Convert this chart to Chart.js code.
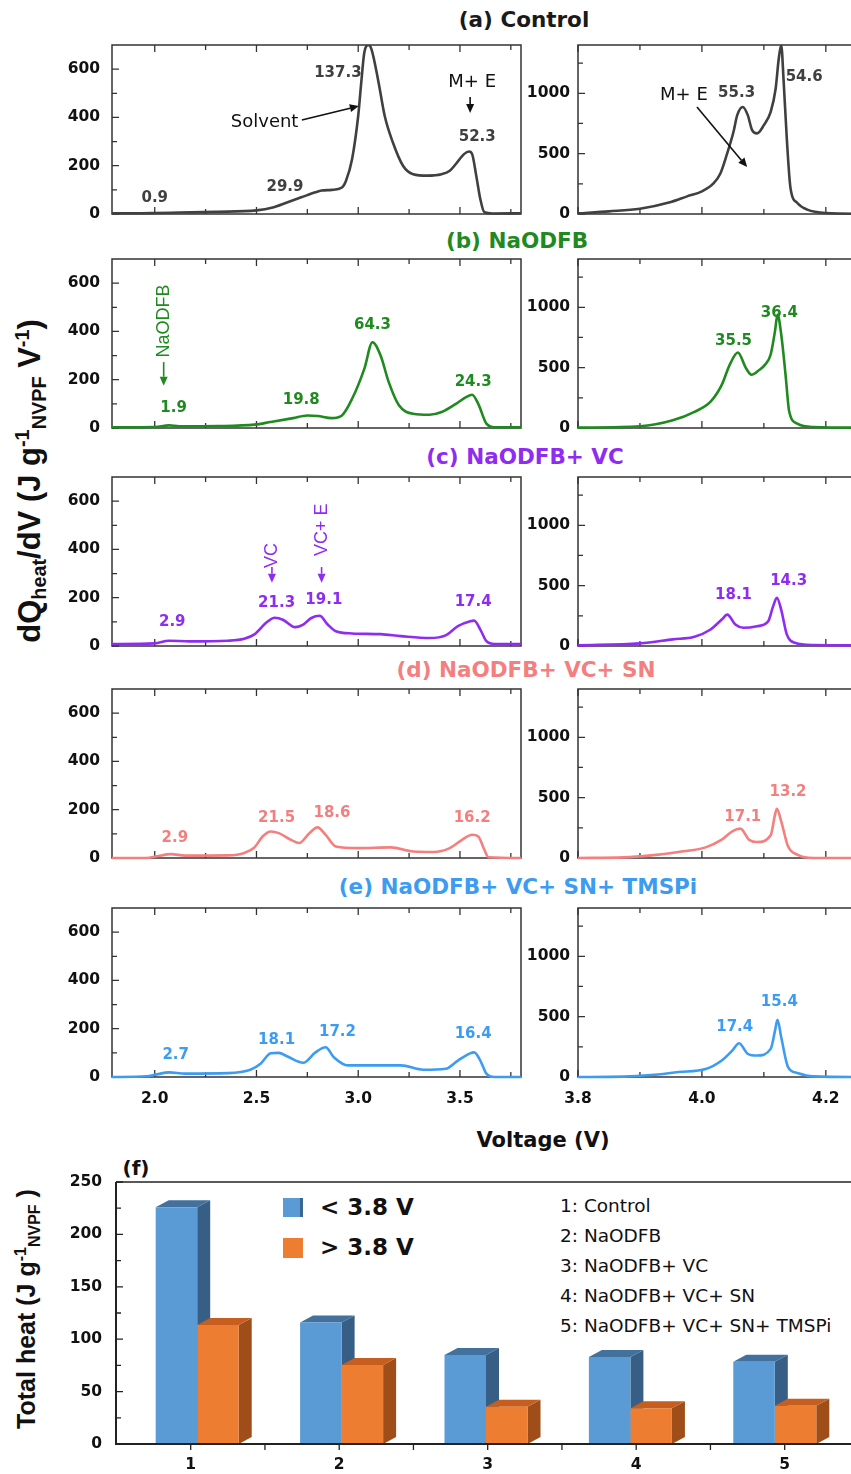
<!DOCTYPE html>
<html><head><meta charset="utf-8">
<script src="https://cdn.jsdelivr.net/npm/chart.js@4.4.0/dist/chart.umd.min.js"></script>
<style>
html,body{margin:0;padding:0;background:#fff;}
body{width:851px;height:1474px;overflow:hidden;position:relative;font-family:"DejaVu Sans",sans-serif;}
canvas{position:absolute;}
.t{position:absolute;white-space:nowrap;font-weight:bold;font-size:21.5px;line-height:1;transform:translate(-50%,-50%);}
.rt{position:absolute;white-space:nowrap;font-weight:bold;font-family:"Liberation Sans",Arial,sans-serif;line-height:1;color:#111;transform:translate(-50%,-50%) rotate(-90deg);}
.sb{font-size:0.64em;position:relative;top:0.32em;}
.sp{font-size:0.64em;position:relative;top:-0.55em;}
.lg{position:absolute;white-space:nowrap;line-height:1;transform:translateY(-50%);color:#111;}
</style></head><body>

<div class="t" style="left:524px;top:20px;color:#1a1a1a">(a) Control</div>
<div class="t" style="left:517px;top:241px;color:#1f8a1f">(b) NaODFB</div>
<div class="t" style="left:525px;top:457px;color:#8f2cf2">(c) NaODFB+ VC</div>
<div class="t" style="left:526px;top:670px;color:#f47f7f">(d) NaODFB+ VC+ SN</div>
<div class="t" style="left:518px;top:887px;color:#3d9cf0">(e) NaODFB+ VC+ SN+ TMSPi</div>
<div class="rt" style="left:29px;top:481px;font-size:31px">dQ<span class="sb">heat</span>/dV (J g<span class="sp">-1</span><span class="sb">NVPF</span> V<span class="sp">-1</span>)</div>
<div class="t" style="left:543px;top:1140px;font-size:21px;color:#111">Voltage (V)</div>
<div class="t" style="left:136px;top:1168px;font-size:20px;color:#111">(f)</div>
<div class="rt" style="left:26px;top:1309px;font-size:25px">Total heat (J g<span class="sp">-1</span><span class="sb">NVPF</span> )</div>

<div style="position:absolute;left:283px;top:1198px;width:17px;height:19px;background:#5b9bd5;border-right:3px solid #3a6791"></div>
<div style="position:absolute;left:283px;top:1238px;width:20px;height:20px;background:#ed7d31"></div>
<div class="lg" style="left:320px;top:1207px;font-weight:bold;font-size:23px">&lt; 3.8 V</div>
<div class="lg" style="left:320px;top:1247px;font-weight:bold;font-size:23px">&gt; 3.8 V</div>
<div id="legendNames"></div>

<script>
// ---------------- DATA ----------------
// (a) Control
const voltA1 = [1.79, 1.90, 2.00, 2.12, 2.30, 2.50, 2.58, 2.65, 2.72, 2.79, 2.82, 2.87, 2.92, 2.94, 2.97, 3.00, 3.015, 3.03, 3.05, 3.065, 3.10, 3.13, 3.17, 3.22, 3.27, 3.34, 3.41, 3.45, 3.48, 3.52, 3.545, 3.56, 3.58, 3.60, 3.62, 3.66, 3.80];
const heatA1 = [3, 3, 4, 6, 9, 15, 27, 48, 69, 90, 97, 100, 110, 138, 228, 407, 545, 669, 700, 683, 545, 407, 297, 200, 165, 159, 165, 179, 207, 248, 259, 248, 159, 62, 7, 2, 3];
const voltA2 = [3.80, 3.85, 3.90, 3.95, 3.976, 4.00, 4.019, 4.03, 4.04, 4.051, 4.057, 4.066, 4.074, 4.081, 4.089, 4.10, 4.111, 4.119, 4.124, 4.128, 4.132, 4.137, 4.143, 4.154, 4.17, 4.20, 4.26];
const heatA2 = [5, 22, 44, 99, 146, 187, 255, 338, 489, 681, 819, 887, 819, 695, 668, 736, 846, 1038, 1286, 1400, 1093, 626, 214, 91, 36, 8, 2];
// (b) NaODFB
const voltB1 = [1.79, 2.00, 2.07, 2.12, 2.31, 2.49, 2.57, 2.68, 2.75, 2.80, 2.87, 2.92, 2.97, 3.03, 3.07, 3.11, 3.15, 3.20, 3.27, 3.35, 3.41, 3.48, 3.53, 3.56, 3.59, 3.63, 3.67, 3.80];
const heatB1 = [3, 4, 11, 7, 8, 14, 25, 41, 52, 50, 41, 52, 121, 245, 355, 300, 190, 94, 59, 55, 66, 100, 128, 138, 100, 18, 3, 3];
const voltB2 = [3.80, 3.90, 3.953, 3.988, 4.014, 4.032, 4.045, 4.058, 4.071, 4.08, 4.093, 4.102, 4.111, 4.118, 4.122, 4.128, 4.135, 4.141, 4.154, 4.18, 4.26];
const heatB2 = [3, 14, 64, 134, 218, 357, 525, 625, 497, 441, 483, 525, 609, 804, 940, 776, 441, 134, 36, 8, 3];
// (c) NaODFB+ VC
const voltC1 = [1.79, 2.00, 2.07, 2.17, 2.36, 2.44, 2.49, 2.55, 2.59, 2.63, 2.69, 2.73, 2.77, 2.81, 2.85, 2.89, 2.97, 3.11, 3.21, 3.35, 3.43, 3.49, 3.55, 3.57, 3.60, 3.63, 3.67, 3.80];
const heatC1 = [8, 11, 22, 19, 22, 30, 48, 98, 117, 109, 78, 89, 116, 125, 89, 61, 52, 49, 41, 33, 44, 82, 102, 105, 68, 20, 8, 8];
const voltC2 = [3.80, 3.90, 3.953, 3.988, 4.014, 4.032, 4.041, 4.054, 4.067, 4.089, 4.107, 4.115, 4.121, 4.128, 4.137, 4.15, 4.18, 4.26];
const heatC2 = [5, 22, 55, 77, 137, 219, 260, 178, 151, 164, 205, 330, 400, 300, 96, 27, 8, 5];
// (d) NaODFB+ VC+ SN
const voltD1 = [1.79, 1.96, 2.01, 2.08, 2.15, 2.36, 2.44, 2.49, 2.53, 2.57, 2.61, 2.67, 2.71, 2.76, 2.80, 2.84, 2.89, 3.00, 3.16, 3.27, 3.37, 3.45, 3.51, 3.56, 3.59, 3.62, 3.64, 3.80];
const heatD1 = [0, 0, 7, 16, 10, 11, 21, 44, 89, 110, 103, 75, 62, 103, 127, 96, 48, 41, 44, 27, 25, 41, 75, 96, 89, 34, 3, 0];
const voltD2 = [3.80, 3.874, 3.918, 3.962, 4.006, 4.032, 4.049, 4.062, 4.076, 4.089, 4.111, 4.118, 4.121, 4.128, 4.139, 4.154, 4.18, 4.26];
const heatD2 = [0, 5, 22, 50, 88, 152, 221, 243, 152, 132, 188, 359, 408, 304, 97, 28, 0, 0];
// (e) NaODFB+ VC+ SN+ TMSPi
const voltE1 = [1.79, 1.96, 2.01, 2.07, 2.15, 2.36, 2.47, 2.52, 2.57, 2.61, 2.65, 2.73, 2.79, 2.84, 2.88, 2.95, 3.11, 3.21, 3.32, 3.43, 3.49, 3.55, 3.57, 3.60, 3.63, 3.67, 3.80];
const heatE1 = [0, 3, 11, 19, 14, 16, 30, 55, 98, 100, 86, 59, 102, 123, 82, 48, 48, 48, 30, 34, 68, 98, 102, 68, 14, 0, 0];
const voltE2 = [3.80, 3.874, 3.918, 3.962, 4.006, 4.032, 4.049, 4.06, 4.074, 4.089, 4.111, 4.118, 4.122, 4.128, 4.139, 4.154, 4.18, 4.26];
const heatE2 = [0, 3, 16, 41, 66, 137, 219, 279, 192, 178, 233, 384, 474, 329, 82, 33, 5, 0];

// peak labels [voltage, value, text]
const numA1 = [[2.00, 66, '0.9'], [2.64, 112, '29.9'], [2.90, 584, '137.3'], [3.585, 319, '52.3']];
const numA2 = [[4.056, 1002, '55.3'], [4.165, 1135, '54.6']];
const numB1 = [[2.093, 83, '1.9'], [2.72, 116, '19.8'], [3.07, 427, '64.3'], [3.565, 190, '24.3']];
const numB2 = [[4.051, 722, '35.5'], [4.125, 955, '36.4']];
const numC1 = [[2.086, 97, '2.9'], [2.599, 179, '21.3'], [2.831, 190, '19.1'], [3.565, 182, '17.4']];
const numC2 = [[4.051, 424, '18.1'], [4.14, 534, '14.3']];
const numD1 = [[2.099, 84, '2.9'], [2.599, 167, '21.5'], [2.871, 185, '18.6'], [3.56, 164, '16.2']];
const numD2 = [[4.066, 336, '17.1'], [4.139, 543, '13.2']];
const numE1 = [[2.103, 92, '2.7'], [2.599, 151, '18.1'], [2.898, 186, '17.2'], [3.565, 179, '16.4']];
const numE2 = [[4.053, 414, '17.4'], [4.125, 620, '15.4']];
// text callouts [voltage, value, text]
const wordsA1 = [[2.54, 381, 'Solvent'], [3.56, 547, 'M+ E']];
const wordsA2 = [[3.971, 986, 'M+ E']];
const arrowsA1 = [[2.723, 389, 3.003, 447], [3.55, 485, 3.55, 418]];
const arrowsA2 = [[3.992, 886, 4.073, 389]];
// vertical notes [voltage, text-centre value, text, arrow start value, arrow end value]
const sideNotesB1 = [[2.044, 443, 'NaODFB', 273, 175]];
const sideNotesC1 = [[2.576, 375, 'VC', 327, 262], [2.82, 482, 'VC+ E', 327, 262]];

// ticks
const lowXMajor = [2.0, 2.5, 3.0, 3.5], lowXMinor = [2.25, 2.75, 3.25, 3.75];
const lowYMajor = [0, 200, 400, 600], lowYMinor = [100, 300, 500];
const highXMajor = [3.8, 4.0, 4.2], highXMinor = [3.9, 4.1];
const highYMajor = [0, 500, 1000], highYMinor = [250, 750, 1250];

// (f) total heat
const groupLabels = ['1', '2', '3', '4', '5'];
const groupTicks = [1, 2, 3, 4, 5];
const heatBelow38 = [226, 116, 85, 83, 78.5];
const heatAbove38 = [113.5, 75.5, 35.5, 34, 36.5];
const heatTicks = [0, 50, 100, 150, 200, 250];
const groupNames = ['1: Control', '2: NaODFB', '3: NaODFB+ VC', '4: NaODFB+ VC+ SN', '5: NaODFB+ VC+ SN+ TMSPi'];

// ---------------- DRAWING ----------------
Chart.defaults.font.family = '"DejaVu Sans", sans-serif';
const TICKFONT = {family: '"DejaVu Sans", sans-serif', weight: 'bold', size: 15.5};
const rowTop = [45, 259, 477, 689, 908];
const PH = 169;

function makeCanvas(w, h) {
  const c = document.createElement('canvas');
  c.width = w; c.height = h;
  c.style.left = '0px'; c.style.top = '0px';
  c.style.width = w + 'px'; c.style.height = h + 'px';
  document.body.appendChild(c);
  return c;
}
// builds a chart and moves/resizes its canvas so that the plot area lands on [L,R]x[T,B]
function placeChart(cfgFn, L, T, R, B, w0, h0) {
  let w = w0, h = h0, chart = null, cv = null;
  for (let it = 0; it < 4; it++) {
    if (chart) { chart.destroy(); cv.remove(); }
    cv = makeCanvas(w, h);
    chart = new Chart(cv, cfgFn());
    const a = chart.chartArea;
    cv.style.left = (L - a.left) + 'px';
    cv.style.top = (T - a.top) + 'px';
    const dw = (R - L) - (a.right - a.left), dh = (B - T) - (a.bottom - a.top);
    if (Math.abs(dw) < 0.75 && Math.abs(dh) < 0.75) break;
    w = Math.round(w + dw); h = Math.round(h + dh);
  }
  return chart;
}
const setTicks = vals => s => { s.ticks = vals.map(v => ({value: v})); };

function framePlugin(xMaj, xMin, yMaj, yMin) {
  return {
    id: 'frame',
    beforeDatasetsDraw(chart) {
      const {ctx, chartArea: a, scales: {x, y}} = chart;
      ctx.save();
      ctx.strokeStyle = '#333';
      ctx.lineWidth = 1.5;
      ctx.strokeRect(a.left, a.top, a.right - a.left, a.bottom - a.top);
      ctx.lineWidth = 1.3;
      ctx.beginPath();
      const xt = (vals, len) => vals.forEach(v => {
        const p = x.getPixelForValue(v);
        ctx.moveTo(p, a.bottom); ctx.lineTo(p, a.bottom - len);
        ctx.moveTo(p, a.top); ctx.lineTo(p, a.top + len);
      });
      const yt = (vals, len) => vals.forEach(v => {
        const p = y.getPixelForValue(v);
        ctx.moveTo(a.left, p); ctx.lineTo(a.left + len, p);
      });
      xt(xMaj, 7); xt(xMin, 5); yt(yMaj, 7); yt(yMin, 5);
      ctx.stroke();
      ctx.restore();
    }
  };
}

function arrowLine(ctx, x1, y1, x2, y2, color) {
  ctx.strokeStyle = color; ctx.fillStyle = color; ctx.lineWidth = 1.6;
  const ang = Math.atan2(y2 - y1, x2 - x1);
  const hl = 9, hw = 4;
  const bx = x2 - hl * Math.cos(ang), by = y2 - hl * Math.sin(ang);
  ctx.beginPath(); ctx.moveTo(x1, y1); ctx.lineTo(bx, by); ctx.stroke();
  ctx.beginPath();
  ctx.moveTo(x2, y2);
  ctx.lineTo(bx + hw * Math.sin(ang), by - hw * Math.cos(ang));
  ctx.lineTo(bx - hw * Math.sin(ang), by + hw * Math.cos(ang));
  ctx.closePath(); ctx.fill();
}

function notePlugin(color, nums, words, arrows, sideNotes) {
  return {
    id: 'notes',
    afterDatasetsDraw(chart) {
      const {ctx, scales: {x, y}} = chart;
      ctx.save();
      ctx.textAlign = 'center'; ctx.textBaseline = 'middle';
      ctx.font = 'bold 15px "DejaVu Sans"';
      ctx.fillStyle = color;
      nums.forEach(n => ctx.fillText(n[2], x.getPixelForValue(n[0]), y.getPixelForValue(n[1])));
      ctx.font = '18px "DejaVu Sans"';
      ctx.fillStyle = '#111';
      words.forEach(n => ctx.fillText(n[2], x.getPixelForValue(n[0]), y.getPixelForValue(n[1])));
      arrows.forEach(a => arrowLine(ctx, x.getPixelForValue(a[0]), y.getPixelForValue(a[1]),
                                   x.getPixelForValue(a[2]), y.getPixelForValue(a[3]), '#111'));
      ctx.font = '18px "Liberation Sans", "DejaVu Sans"';
      sideNotes.forEach(n => {
        const px = x.getPixelForValue(n[0]);
        ctx.save();
        ctx.fillStyle = color;
        ctx.translate(px, y.getPixelForValue(n[1]));
        ctx.rotate(-Math.PI / 2);
        ctx.fillText(n[2], 0, 0);
        ctx.restore();
        arrowLine(ctx, px, y.getPixelForValue(n[3]), px, y.getPixelForValue(n[4]), color);
      });
      ctx.restore();
    }
  };
}

function linePanel(row, isLeft, V, Q, color, nums, words, arrows, sideNotes) {
  const showX = row === 4;
  const xH = showX ? 42 : 30;
  const axisW = isLeft ? 82 : 78;
  const plugins = [
    isLeft ? framePlugin(lowXMajor, lowXMinor, lowYMajor, lowYMinor)
           : framePlugin(highXMajor, highXMinor, highYMajor, highYMinor),
    notePlugin(color, nums, words, arrows, sideNotes)
  ];
  const cfg = () => ({
    type: 'line',
    data: {datasets: [{
      data: V.map((v, i) => ({x: v, y: Q[i]})),
      borderColor: color, borderWidth: 2.6, pointRadius: 0, fill: false,
      cubicInterpolationMode: 'monotone',
      clip: {left: 0, right: 0, top: 0, bottom: 3}
    }]},
    options: {
      responsive: false, animation: false, devicePixelRatio: 1, events: [],
      layout: {padding: {top: 28, right: isLeft ? 3 : 0, left: 0, bottom: 0}},
      plugins: {legend: {display: false}, tooltip: {enabled: false}},
      scales: {
        x: {
          type: 'linear', min: isLeft ? 1.79 : 3.8, max: isLeft ? 3.8 : 4.26, offset: false,
          grid: {display: false, drawTicks: false}, border: {display: false},
          ticks: {display: showX, autoSkip: false, maxRotation: 0, padding: 13, font: TICKFONT, color: '#111',
                  callback: v => Number(v).toFixed(1)},
          afterBuildTicks: setTicks(isLeft ? lowXMajor : highXMajor),
          afterFit: s => { s.height = xH; }
        },
        y: {
          type: 'linear', min: 0, max: isLeft ? 700 : 1400,
          grid: {display: false, drawTicks: false}, border: {display: false},
          ticks: {autoSkip: false, padding: isLeft ? 12 : 8, font: TICKFONT, color: '#111',
                  callback: v => String(v)},
          afterBuildTicks: setTicks(isLeft ? lowYMajor : highYMajor),
          afterFit: s => { s.width = axisW; }
        }
      }
    },
    plugins
  });
  const L = isLeft ? 112 : 578, R = isLeft ? 521 : 863;
  placeChart(cfg, L, rowTop[row], R, rowTop[row] + PH, (R - L) + axisW + 3, 28 + PH + xH);
}

const colA = '#404040', colB = '#1f8a1f', colC = '#8f2cf2', colD = '#f47f7f', colE = '#3d9cf0';
linePanel(0, true, voltA1, heatA1, colA, numA1, wordsA1, arrowsA1, []);
linePanel(0, false, voltA2, heatA2, colA, numA2, wordsA2, arrowsA2, []);
linePanel(1, true, voltB1, heatB1, colB, numB1, [], [], sideNotesB1);
linePanel(1, false, voltB2, heatB2, colB, numB2, [], [], []);
linePanel(2, true, voltC1, heatC1, colC, numC1, [], [], sideNotesC1);
linePanel(2, false, voltC2, heatC2, colC, numC2, [], [], []);
linePanel(3, true, voltD1, heatD1, colD, numD1, [], [], []);
linePanel(3, false, voltD2, heatD2, colD, numD2, [], [], []);
linePanel(4, true, voltE1, heatE1, colE, numE1, [], [], []);
linePanel(4, false, voltE2, heatE2, colE, numE2, [], [], []);

// (f) legend of names
const ln = document.getElementById('legendNames');
groupNames.forEach((t, i) => {
  const d = document.createElement('div');
  d.className = 'lg';
  d.style.left = '560px'; d.style.top = (1206 + 30 * i) + 'px';
  d.style.fontSize = '18.5px';
  d.textContent = t;
  ln.appendChild(d);
});

// (f) 3D bar chart
const DX = 13, DY = 7, AXIS_GAP = 9;
const faceColors = [['#41719c', '#375f85'], ['#c55e1e', '#9f4d19']];
const bar3d = {
  id: 'bar3d',
  beforeDatasetsDraw(chart) {
    const ctx = chart.ctx;
    const m0 = chart.getDatasetMeta(0), m1 = chart.getDatasetMeta(1);
    ctx.save();
    m0.data.forEach((el0, i) => {
      [el0, m1.data[i]].forEach((el, k) => {
        const x1 = el.x - el.width / 2, x2 = el.x + el.width / 2, top = el.y, base = el.base;
        ctx.fillStyle = faceColors[k][1];
        ctx.beginPath();
        ctx.moveTo(x2, top); ctx.lineTo(x2 + DX, top - DY); ctx.lineTo(x2 + DX, base - DY); ctx.lineTo(x2, base);
        ctx.closePath(); ctx.fill();
        ctx.fillStyle = faceColors[k][0];
        ctx.beginPath();
        ctx.moveTo(x1, top); ctx.lineTo(x2, top); ctx.lineTo(x2 + DX, top - DY); ctx.lineTo(x1 + DX, top - DY);
        ctx.closePath(); ctx.fill();
      });
    });
    ctx.restore();
  },
  afterDraw(chart) {
    const {ctx, chartArea: a, scales: {xl, y}} = chart;
    const ax = a.left - AXIS_GAP;
    ctx.save();
    ctx.strokeStyle = '#222';
    ctx.lineWidth = 2;
    ctx.beginPath();
    ctx.moveTo(ax, a.top); ctx.lineTo(ax, a.bottom); ctx.lineTo(a.right + 40, a.bottom);
    ctx.stroke();
    ctx.lineWidth = 1.5;
    ctx.beginPath(); ctx.moveTo(ax, a.top); ctx.lineTo(a.right + 40, a.top); ctx.stroke();
    ctx.lineWidth = 1.3;
    ctx.beginPath();
    for (let v = 0; v <= 250; v += 25) {
      const p = y.getPixelForValue(v);
      ctx.moveTo(ax, p); ctx.lineTo(ax + (v % 50 === 0 ? 7 : 5), p);
    }
    groupTicks.forEach(v => {
      [v, v + 0.5].forEach(t => {
        const p = xl.getPixelForValue(t);
        ctx.moveTo(p, a.bottom); ctx.lineTo(p, a.bottom + 6);
      });
    });
    ctx.stroke();
    ctx.restore();
  }
};

const barCfg = () => ({
  type: 'bar',
  data: {
    labels: groupLabels,
    datasets: [
      {label: '< 3.8 V', data: heatBelow38, backgroundColor: '#5b9bd5', borderWidth: 0, xAxisID: 'x'},
      {label: '> 3.8 V', data: heatAbove38, backgroundColor: '#ed7d31', borderWidth: 0, xAxisID: 'x'}
    ]
  },
  options: {
    responsive: false, animation: false, devicePixelRatio: 1, events: [],
    layout: {padding: {top: 40, right: 40, left: 0, bottom: 0}},
    datasets: {bar: {categoryPercentage: 0.575, barPercentage: 1.0}},
    plugins: {legend: {display: false}, tooltip: {enabled: false}},
    scales: {
      x: {type: 'category', display: false},
      xl: {
        type: 'linear', position: 'bottom', min: 0.5576, max: 5.4196, offset: false,
        grid: {display: false, drawTicks: false, offset: false}, border: {display: false},
        ticks: {padding: 12, font: TICKFONT, color: '#111', autoSkip: false, maxRotation: 0,
                callback: v => groupLabels[Math.round(v) - 1]},
        afterBuildTicks: setTicks(groupTicks),
        afterFit: s => { s.height = 36; }
      },
      y: {
        min: 0, max: 250,
        grid: {display: false, drawTicks: false}, border: {display: false},
        ticks: {padding: 14 + AXIS_GAP, font: TICKFONT, color: '#111', callback: v => String(v)},
        afterBuildTicks: setTicks(heatTicks),
        afterFit: s => { s.width = 125; }
      }
    }
  },
  plugins: [bar3d]
});
placeChart(barCfg, 125, 1182, 847, 1444, 912, 338);
</script>
</body></html>
